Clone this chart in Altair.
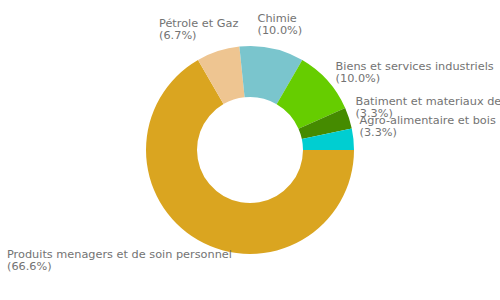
import math
import altair as alt
import pandas as pd

categories = [
    "Produits menagers et de soin personnel",
    "Pétrole et Gaz",
    "Chimie",
    "Biens et services industriels",
    "Batiment et materiaux de construction",
    "Agro-alimentaire et bois",
]
values = [66.6, 6.7, 10.0, 10.0, 3.3, 3.3]
colors = ["#DAA520", "#EEC591", "#7AC5CD", "#66CD00", "#458B00", "#00CED1"]

total = sum(values)
df = pd.DataFrame({"cat": categories, "value": values, "idx": list(range(len(values)))})

theta_scale = alt.Scale(domain=[0, total], range=[math.pi / 2, math.pi / 2 + 2 * math.pi])

base = (
    alt.Chart(df)
    .transform_window(cum="sum(value)", sort=[alt.SortField("idx")], frame=[None, 0])
    .transform_calculate(
        start="datum.cum - datum.value",
        mid="datum.cum - datum.value / 2",
        frac=f"(datum.cum - datum.value / 2) / {total}",
        label="datum.cat + '\\n(' + format(datum.value, '.1f') + '%)'",
    )
)

arcs = base.mark_arc(outerRadius=104, innerRadius=53).encode(
    theta=alt.Theta("start:Q", scale=theta_scale, stack=None),
    theta2="cum:Q",
    color=alt.Color("cat:N", scale=alt.Scale(domain=categories, range=colors), legend=None),
)

txt = dict(font="DejaVu Sans", fontSize=11.3, color="#737373", lineBreak="\n",
           lineHeight=12, align="left", baseline="alphabetic")
enc = dict(theta=alt.Theta("mid:Q", scale=theta_scale, stack=None), text="label:N")

right = base.mark_text(radius=96, dx=14, dy=-16, **txt).encode(**enc).transform_filter("datum.frac > 0.85")
top = base.mark_text(radius=190, dx=-32.5, dy=58, **txt).encode(**enc).transform_filter(
    "datum.frac > 0.5 && datum.frac <= 0.85")
left = base.mark_text(radius=96, dx=-195, dy=25, **txt).encode(**enc).transform_filter("datum.frac <= 0.5")

chart = alt.layer(arcs, right, top, left).properties(
    width=500, height=300, padding=0, autosize=alt.AutoSizeParams(type="none")
).configure_view(stroke=None)

chart.save("out.html", embed_options={"renderer": "svg", "actions": False})
